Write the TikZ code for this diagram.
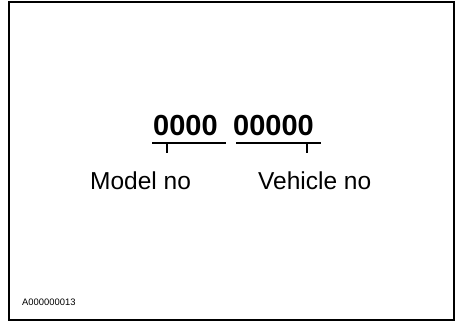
\documentclass[tikz,border=0pt]{standalone}
\usepackage{fontspec}
\setmainfont{Liberation Sans}
\usetikzlibrary{positioning}

\begin{document}
\begin{tikzpicture}[x=1pt,y=-1pt,
  digits/.style={inner sep=0pt,anchor=base west,font=\fontsize{29}{30}\selectfont\bfseries},
  label/.style={inner sep=0pt,anchor=base west,font=\fontsize{24.5}{26}\selectfont},
  bracket/.style={line width=1.5pt},
  tick/.style={line width=1.2pt}]
\useasboundingbox (0,0) rectangle (461,323);
\draw[line width=2pt] (9,2) rectangle (454,320);
% number groups
\node[digits] (modeldig) at (153,136) {0000};
\node[digits] (vehdig) at (233,136) {00000};
% brackets under the groups
\coordinate (mL) at (152,143);
\coordinate (mR) at (226,143);
\coordinate (vL) at (236,143);
\coordinate (vR) at (321,143);
\draw[bracket] (mL) -- (mR);
\draw[bracket] (vL) -- (vR);
\coordinate (mT) at (167,143);
\coordinate (vT) at (307,143);
\draw[tick] (mT) -- ++(0,10);
\draw[tick] (vT) -- ++(0,10);
% labels
\node[label] (model) at (90,190) {Model no};
\node[label] (vehicle) at (258,190) {Vehicle no};
\node[inner sep=0pt,anchor=base west,font=\fontsize{9.4}{10}\selectfont] (ref) at (22,306) {A000000013};
\end{tikzpicture}
\end{document}
